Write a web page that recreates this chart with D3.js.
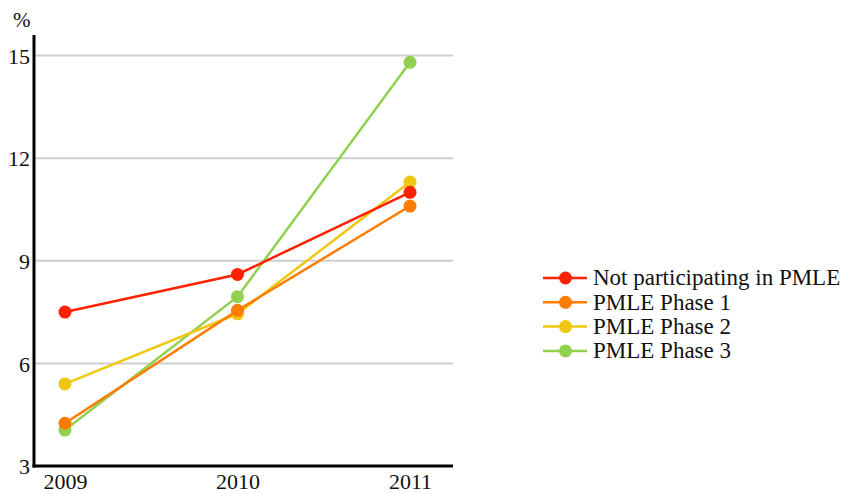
<!DOCTYPE html>
<html>
<head>
<meta charset="utf-8">
<script src="https://cdn.jsdelivr.net/npm/d3@7"></script>
<style>
  body { margin: 0; background: #fff; }
  #chart text { font-family: "Liberation Serif", "Times New Roman", serif; fill: #111; }
</style>
</head>
<body>
<svg id="chart" width="846" height="494"></svg>
<script>
var years = ["2009", "2010", "2011"];
var yTicks = [3, 6, 9, 12, 15];
var seriesNames = ["Not participating in PMLE", "PMLE Phase 1", "PMLE Phase 2", "PMLE Phase 3"];
var seriesColors = ["#ff2200", "#ff7c00", "#f0c710", "#92d050"];
var notParticipating = [7.5, 8.6, 11.0];
var phase1 = [4.25, 7.55, 10.6];
var phase2 = [5.4, 7.45, 11.3];
var phase3 = [4.05, 7.95, 14.8];

var series = [notParticipating, phase1, phase2, phase3];
// green at the back, red on top
var drawOrder = [3, 2, 1, 0];

var margin = {left: 34, top: 35, right: 393, bottom: 28};
var width = 846 - margin.left - margin.right;
var height = 494 - margin.top - margin.bottom;

var svg = d3.select("#chart");
var g = svg.append("g")
  .attr("transform", "translate(" + margin.left + "," + margin.top + ")");

var y = d3.scaleLinear().domain([3, 15.6]).range([height, 0]);
var x = d3.scalePoint().domain(years).range([31, 376]);

g.selectAll(".grid")
  .data(yTicks.slice(1))
  .enter().append("line")
  .attr("class", "grid")
  .attr("x1", 0).attr("x2", width)
  .attr("y1", function(d){ return y(d); })
  .attr("y2", function(d){ return y(d); })
  .attr("stroke", "#cfcfcf")
  .attr("stroke-width", 2);

var yAxis = d3.axisLeft(y).tickValues(yTicks).tickSize(0).tickPadding(4);
var yg = g.append("g").call(yAxis);
yg.select(".domain").remove();
yg.selectAll("text").style("font-size", "22px").attr("dy", "0.35em");

var xAxis = d3.axisBottom(x).tickSize(0).tickPadding(7);
var xg = g.append("g").attr("transform", "translate(0," + height + ")").call(xAxis);
xg.select(".domain").remove();
xg.selectAll("text").style("font-size", "22px");

g.append("line")
  .attr("x1", 0).attr("x2", 0).attr("y1", 0).attr("y2", height + 1.5)
  .attr("stroke", "#000").attr("stroke-width", 3);
g.append("line")
  .attr("x1", -1.5).attr("x2", width).attr("y1", height).attr("y2", height)
  .attr("stroke", "#000").attr("stroke-width", 3);

svg.append("text")
  .attr("x", 13).attr("y", 27)
  .style("font-size", "21px")
  .text("%");

var line = d3.line()
  .x(function(d, i){ return x(years[i]); })
  .y(function(d){ return y(d); });

drawOrder.forEach(function(k){
  g.append("path")
    .datum(series[k])
    .attr("d", line)
    .attr("fill", "none")
    .attr("stroke", seriesColors[k])
    .attr("stroke-width", 2.5);
  g.selectAll(".dot" + k)
    .data(series[k])
    .enter().append("circle")
    .attr("cx", function(d, i){ return x(years[i]); })
    .attr("cy", function(d){ return y(d); })
    .attr("r", 6.5)
    .attr("fill", seriesColors[k]);
});

// legend
var legend = svg.append("g").attr("transform", "translate(543,278)");
var items = legend.selectAll(".item")
  .data(seriesNames)
  .enter().append("g")
  .attr("transform", function(d, i){ return "translate(0," + (i * 24.3) + ")"; });
items.append("line")
  .attr("x1", 0).attr("x2", 44).attr("y1", 0).attr("y2", 0)
  .attr("stroke", function(d, i){ return seriesColors[i]; })
  .attr("stroke-width", 2.5);
items.append("circle")
  .attr("cx", 22.5).attr("cy", 0).attr("r", 6.5)
  .attr("fill", function(d, i){ return seriesColors[i]; });
items.append("text")
  .attr("x", 50).attr("y", 0).attr("dy", "0.32em")
  .style("font-size", "23px")
  .text(function(d){ return d; });
</script>
</body>
</html>
